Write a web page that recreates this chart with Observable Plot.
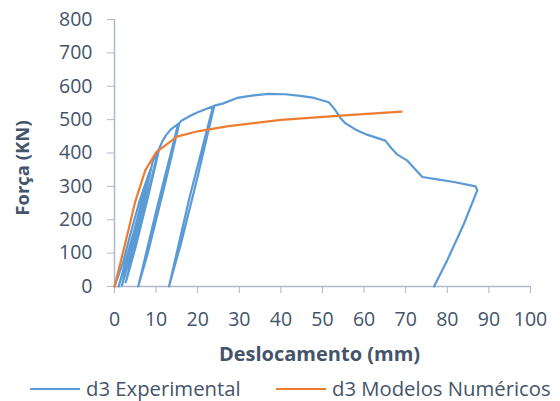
<!DOCTYPE html>
<html>
<head>
<meta charset="utf-8">
<script src="https://cdn.jsdelivr.net/npm/d3@7"></script>
<script src="https://cdn.jsdelivr.net/npm/@observablehq/plot@0.6"></script>
<style>
  body { margin: 0; background: #fff; font-family: "Open Sans", sans-serif; }
  #wrap { width: 560px; height: 401px; position: relative; overflow: hidden; }
  #legend { position: absolute; left: 0; top: 372px; width: 560px; height: 29px; font-size: 20.3px; color: #44546a; }
  .sw { position: absolute; top: 16px; height: 0; border-top: 2px solid; }
  .lt { position: absolute; top: 2px; white-space: nowrap; line-height: 28px; }
</style>
</head>
<body>
<div id="wrap">
  <div id="chart"></div>
  <div id="legend">
    <div class="sw" style="left:30px;width:50px;border-color:#5B9BD5"></div>
    <div class="lt" style="left:86px">d3 Experimental</div>
    <div class="sw" style="left:276px;width:50px;border-color:#ED7D31"></div>
    <div class="lt" style="left:332px">d3 Modelos Numéricos</div>
  </div>
</div>
<script>
// Experimental (cyclic loading) displacement (mm) and force (kN)
const expX = [0, 2, 4, 6, 8.3, 5, 1.0, 3, 6, 8.6, 5, 1.8, 4, 7, 9.2, 10.6, 7, 2.7, 5, 8, 10.8, 11.6, 12.3, 13.5, 15.3, 10, 5.7, 8, 12, 15.6, 16, 18, 20, 22, 23.7, 18, 13.1, 16, 20, 24, 26, 29.5, 33, 37, 41, 44.7, 48, 51.5, 53, 54.3, 55.5, 58, 60.7, 65.1, 66.5, 67.9, 70.3, 72, 74, 78, 81.6, 86.8, 87.2, 84, 80, 76.8];
const expY = [0, 70, 165, 255, 340, 180, 0, 80, 225, 350, 165, 3, 100, 255, 375, 410, 230, 12, 115, 265, 415, 437, 452, 470, 487, 225, 0, 100, 300, 490, 496, 510, 522, 532, 540, 265, 0, 130, 330, 542, 548, 565, 572, 577, 576, 571, 565, 552, 530, 505, 489, 470, 455, 437, 415, 396, 378, 355, 328, 320, 313, 300, 288, 188, 79, 0];
// Numerical model
const numX = [0, 2.5, 5, 7.4, 10, 15, 20, 27, 40, 57, 69];
const numY = [0, 125, 255, 348, 402, 449, 465, 480, 499, 514, 524];
const xTicks = [0, 10, 20, 30, 40, 50, 60, 70, 80, 90, 100];
const yTicks = [0, 100, 200, 300, 400, 500, 600, 700, 800];

const expData = expX.map((x, i) => ({x, y: expY[i]}));
const numData = numX.map((x, i) => ({x, y: numY[i]}));

const axisColor = "#adb9ca";
const textColor = "#44546a";

const chart = Plot.plot({
  width: 560,
  height: 372,
  marginLeft: 114,
  marginRight: 30,
  marginTop: 19,
  marginBottom: 86,
  style: {fontFamily: "Open Sans, sans-serif", fontSize: "19.5px", color: textColor, background: "white"},
  x: {domain: [0, 100]},
  y: {domain: [0, 800]},
  marks: [
    Plot.ruleY([0], {stroke: axisColor, strokeWidth: 1.5}),
    Plot.ruleX([0], {stroke: axisColor, strokeWidth: 1.5}),
    Plot.axisX({ticks: xTicks, tickSize: 7, tickPadding: 19, stroke: axisColor, fill: textColor, label: null}),
    Plot.axisY({ticks: yTicks, tickSize: 7, tickPadding: 15, stroke: axisColor, fill: textColor, label: null}),
    Plot.line(expData, {x: "x", y: "y", stroke: "#5B9BD5", strokeWidth: 2.2, curve: "linear"}),
    Plot.line(numData, {x: "x", y: "y", stroke: "#ED7D31", strokeWidth: 2.2, curve: "linear"}),
    Plot.text(["Deslocamento (mm)"], {frameAnchor: "bottom", dx: -3, dy: 68, lineAnchor: "middle", fontWeight: "bold", fill: textColor, fontSize: 20}),
    Plot.text(["Força (KN)"], {frameAnchor: "left", dx: -91, dy: 15, rotate: -90, textAnchor: "middle", lineAnchor: "middle", fontWeight: "bold", fill: textColor, fontSize: 18.5})
  ]
});
document.getElementById("chart").appendChild(chart);
</script>
</body>
</html>
